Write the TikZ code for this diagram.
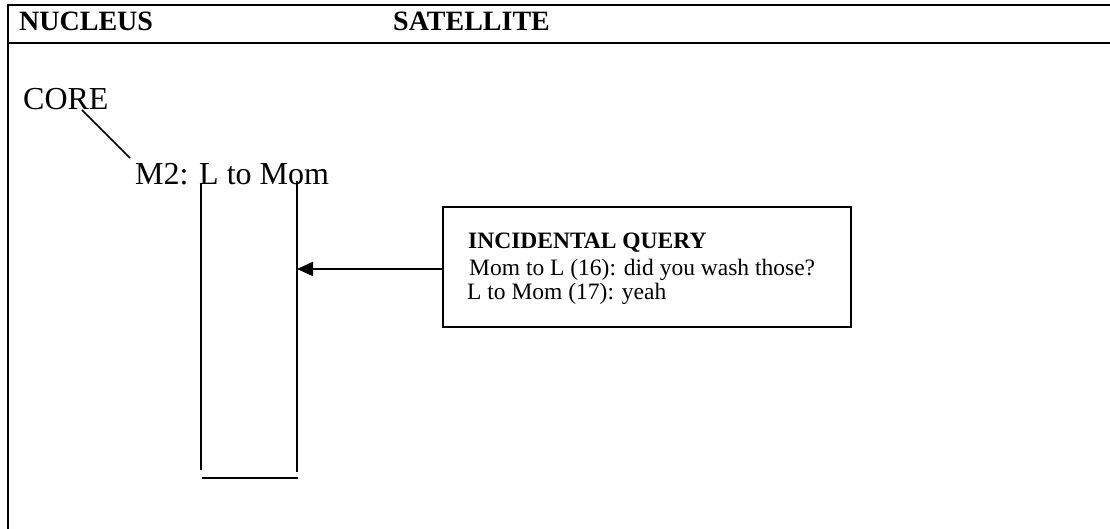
\documentclass[tikz,border=0pt]{standalone}
\usepackage{fontspec}
\setmainfont{Liberation Serif}
\usetikzlibrary{arrows.meta}
\begin{document}
\begin{tikzpicture}[x=1pt,y=-1pt,
  frame/.style={line width=2pt},
  thinline/.style={line width=1.5pt},
  lbl/.style={inner sep=0pt, anchor=base west},
  hdr/.style={lbl, font=\fontsize{28}{32}\selectfont\bfseries},
  big/.style={lbl, font=\fontsize{32}{36}\selectfont},
  small/.style={lbl, font=\fontsize{23.5}{27}\selectfont},
  smallb/.style={small, font=\fontsize{23.5}{27}\selectfont\bfseries},
  arr/.style={line width=2pt, -{Triangle[length=16pt,width=14pt]}},
]
\useasboundingbox (0,0) rectangle (1110,529);
% frame
\coordinate (tl) at (7,5);
\coordinate (tr) at (1110,5);
\coordinate (ml) at (7,43);
\coordinate (mr) at (1110,43);
\coordinate (lt) at (8,4);
\coordinate (lb) at (8,529);
\draw[frame] (tl) -- (tr);
\draw[frame] (ml) -- (mr);
\draw[line width=2.5pt] (lt) -- (lb);
% header
\node[hdr] (nuc) at (19,31) {NUCLEUS};
\node[hdr] (sat) at (393,31) {SATELLITE};
% core
\node[big] (core) at (23,110) {CORE};
\node[big] (m2) at (135,185) {M2: L to Mom};
\coordinate (c1) at (82,110);
\coordinate (c2) at (130,158);
\draw[thinline] (c1) -- (c2);
% bracket
\coordinate (ltop) at (201,183);
\coordinate (lbot) at (201,470);
\coordinate (rtop) at (297,181);
\coordinate (rbot) at (297,472);
\coordinate (bl1) at (202,478);
\coordinate (br1) at (298,478);
\draw[thinline] (ltop) -- (lbot);
\draw[thinline] (rtop) -- (rbot);
\draw[thinline] (bl1) -- (br1);
% box
\node[draw, line width=2pt, minimum width=408pt, minimum height=120pt,
      anchor=north west, inner sep=0pt] (qbox) at (442,206) {};
\node[smallb] (t1) at (468,249) {INCIDENTAL QUERY};
\node[small] (t2) at (469,275) {Mom to L (16): did you wash those?};
\node[small] (t3) at (467,299) {L to Mom (17): yeah};
\coordinate (aw) at (442,269);
\draw[arr] (aw) -- (aw -| rtop);
\end{tikzpicture}
\end{document}
